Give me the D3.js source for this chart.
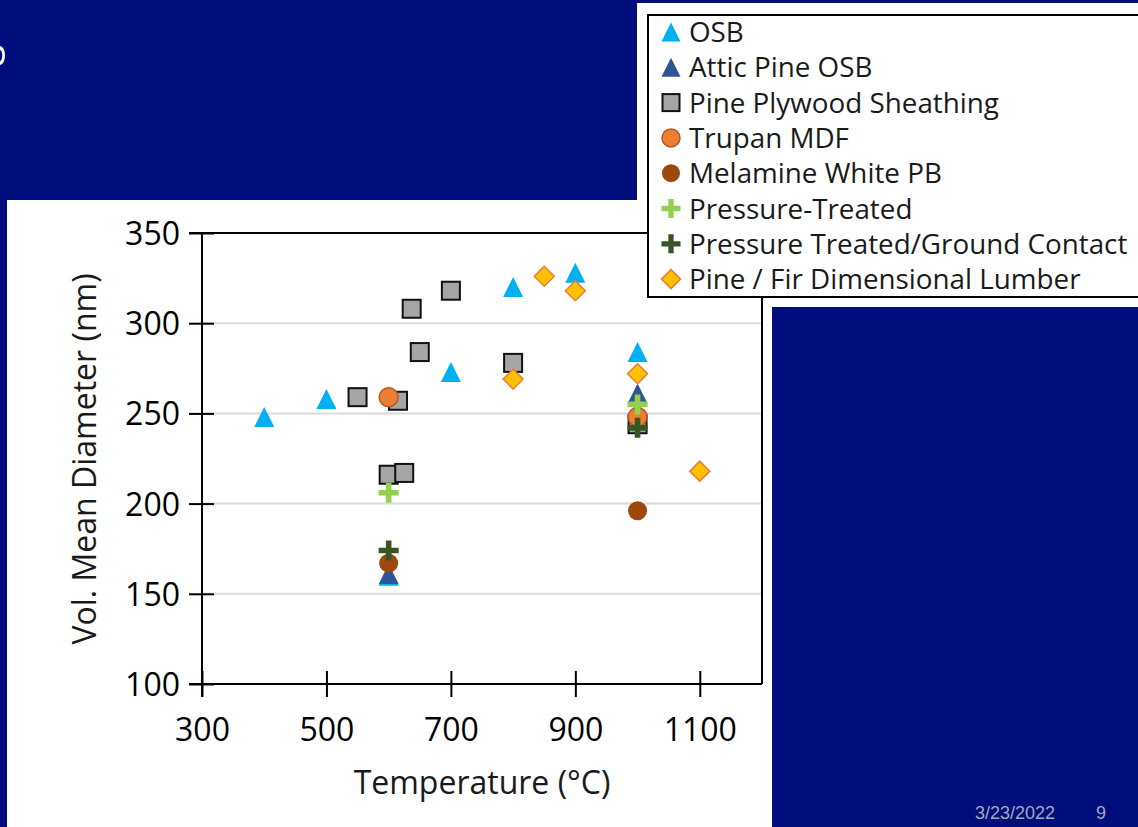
<!DOCTYPE html>
<html>
<head>
<meta charset="utf-8">
<script src="https://cdn.jsdelivr.net/npm/d3@7"></script>
<style>
  html, body { margin: 0; padding: 0; background: #000d7c; }
  svg { display: block; }
</style>
</head>
<body>
<svg id="chart" width="1138" height="827"></svg>
<script>
// Series: [temperature (°C), volume mean diameter (nm)]
const seriesNames = [
  "OSB",
  "Attic Pine OSB",
  "Pine Plywood Sheathing",
  "Trupan MDF",
  "Melamine White PB",
  "Pressure-Treated",
  "Pressure Treated/Ground Contact",
  "Pine / Fir Dimensional Lumber"
];
const osb = [[400, 248], [500, 258], [600, 160], [700, 273], [800, 320], [900, 328], [1000, 284]];
const atticPineOsb = [[600, 161], [1000, 261]];
const pinePlywood = [[550, 259], [600, 216], [615, 257], [625, 217], [637, 308], [650, 284], [700, 318], [800, 278], [1000, 244]];
const trupanMdf = [[600, 259], [1000, 248]];
const melamineWhitePb = [[600, 167], [1000, 196]];
const pressureTreated = [[600, 206], [1000, 255]];
const pressureTreatedGround = [[600, 174], [1000, 242]];
const pineFirLumber = [[800, 269], [850, 326], [900, 318], [1000, 272], [1100, 218]];

const xTicks = [300, 500, 700, 900, 1100];
const yTicks = [100, 150, 200, 250, 300, 350];

const seriesData = [osb, atticPineOsb, pinePlywood, trupanMdf, melamineWhitePb,
                    pressureTreated, pressureTreatedGround, pineFirLumber];

// Marker styles per series
const markerStyles = [
  { shape: "triangle", fill: "#00b0f0", stroke: "none", sw: 0 },
  { shape: "triangle", fill: "#2f5597", stroke: "none", sw: 0 },
  { shape: "square",   fill: "#a5a5a5", stroke: "#111111", sw: 2 },
  { shape: "circle",   fill: "#ed7d31", stroke: "#ae5a21", sw: 1.5 },
  { shape: "circle",   fill: "#9e480e", stroke: "none", sw: 0 },
  { shape: "plus",     fill: "#92d050", stroke: "none", sw: 0 },
  { shape: "plus",     fill: "#375623", stroke: "none", sw: 0 },
  { shape: "diamond",  fill: "#ffc000", stroke: "#ed7d31", sw: 1.5 }
];

const svg = d3.select("#chart");
const FONT = "'Open Sans', 'Noto Sans', sans-serif";

// Slide background pieces
svg.append("rect").attr("x", 0).attr("y", 0).attr("width", 1138).attr("height", 827).attr("fill", "#000d7c");
// edge of the slide title glyph peeking in at the left border
svg.append("path").attr("d", "M0,46 A5,9.5 0 0 1 0,65 L0,61 A2.2,5.5 0 0 0 0,50 Z").attr("fill", "#ffffff");
svg.append("rect").attr("x", 7).attr("y", 200).attr("width", 765).attr("height", 627).attr("fill", "#ffffff");
svg.append("rect").attr("x", 637).attr("y", 3).attr("width", 501).attr("height", 304).attr("fill", "#ffffff");

// Scales
const x = d3.scaleLinear().domain([300, 1200]).range([202, 762]);
const y = d3.scaleLinear().domain([100, 350]).range([684, 233]);

// Gridlines
svg.append("g").selectAll("line").data(yTicks.filter(t => t > 100 && t < 350)).join("line")
  .attr("x1", x(300)).attr("x2", x(1200))
  .attr("y1", d => y(d)).attr("y2", d => y(d))
  .attr("stroke", "#d9d9d9").attr("stroke-width", 2);

// Plot frame (top and right)
svg.append("path")
  .attr("d", `M${x(300) - 13},${y(350)}H${x(1200)}V${y(100)}`)
  .attr("fill", "none").attr("stroke", "#000").attr("stroke-width", 2);

// Axes with ticks crossing the axis line
const xAxis = svg.append("g").attr("transform", `translate(0,${y(100)})`)
  .call(d3.axisBottom(x).tickValues(xTicks).tickSize(0).tickPadding(0).tickFormat(""));
xAxis.select(".domain").attr("stroke", "#000").attr("stroke-width", 2)
  .attr("d", `M${x(300) - 13},0H${x(1200)}`);
xAxis.selectAll(".tick line").attr("y1", -13).attr("y2", 13).attr("stroke", "#000").attr("stroke-width", 2);
xAxis.selectAll(".tick").append("text")
  .attr("y", 57).attr("text-anchor", "middle")
  .attr("font-family", FONT).attr("font-size", 32).attr("fill", "#000")
  .text(d => d);

const yAxis = svg.append("g").attr("transform", `translate(${x(300)},0)`)
  .call(d3.axisLeft(y).tickValues(yTicks).tickSize(0).tickFormat(""));
yAxis.select(".domain").attr("stroke", "#000").attr("stroke-width", 2)
  .attr("d", `M0,${y(350)}V${y(100) + 13}`);
yAxis.selectAll(".tick line").attr("x1", -13).attr("x2", 12).attr("stroke", "#000").attr("stroke-width", 2);
yAxis.selectAll(".tick").append("text")
  .attr("x", -22).attr("dy", "0.36em").attr("text-anchor", "end")
  .attr("font-family", FONT).attr("font-size", 32).attr("fill", "#000")
  .text(d => d);

// Axis titles
svg.append("text").attr("x", 482).attr("y", 794).attr("text-anchor", "middle")
  .attr("font-family", FONT).attr("font-size", 32).attr("fill", "#1a1a1a")
  .text("Temperature (°C)");
svg.append("text").attr("transform", "translate(96,459) rotate(-90)").attr("text-anchor", "middle")
  .attr("font-family", FONT).attr("font-size", 32).attr("fill", "#1a1a1a")
  .text("Vol. Mean Diameter (nm)");

// Marker drawing
function drawMarker(sel, st, size) {
  const h = size / 2;
  if (st.shape === "triangle") {
    sel.append("path").attr("d", `M0,${-h}L${h},${h}L${-h},${h}Z`);
  } else if (st.shape === "square") {
    sel.append("rect").attr("x", -h + 1).attr("y", -h + 1).attr("width", size - 2).attr("height", size - 2);
  } else if (st.shape === "circle") {
    sel.append("circle").attr("r", h - 0.5);
  } else if (st.shape === "diamond") {
    sel.append("path").attr("d", `M0,${-h}L${h},0L0,${h}L${-h},0Z`);
  } else if (st.shape === "plus") {
    const t = size * 0.14;
    sel.append("path").attr("d",
      `M${-t},${-h}H${t}V${-t}H${h}V${t}H${t}V${h}H${-t}V${t}H${-h}V${-t}H${-t}Z`);
  }
  sel.selectAll("*").attr("fill", st.fill).attr("stroke", st.stroke).attr("stroke-width", st.sw);
}

const pointsLayer = svg.append("g");
seriesData.forEach((data, i) => {
  pointsLayer.append("g").selectAll("g").data(data).join("g")
    .attr("transform", d => `translate(${x(d[0])},${y(d[1])})`)
    .each(function () { drawMarker(d3.select(this), markerStyles[i], 20); });
});

// Legend
svg.append("rect").attr("x", 648).attr("y", 15).attr("width", 500).attr("height", 282)
  .attr("fill", "#ffffff").attr("stroke", "#000").attr("stroke-width", 2);
const legend = svg.append("g").selectAll("g").data(seriesNames).join("g")
  .attr("transform", (d, i) => `translate(671,${32 + i * 35.3})`);
legend.each(function (d, i) { drawMarker(d3.select(this), markerStyles[i], 19); });
legend.append("text").attr("x", 18).attr("dy", "0.36em")
  .attr("font-family", FONT).attr("font-size", 27.8).attr("fill", "#1a1a1a")
  .text(d => d);

// Footer
svg.append("text").attr("x", 975).attr("y", 819)
  .attr("font-family", "'Liberation Sans', Arial, sans-serif").attr("font-size", 18).attr("fill", "#a6a6b8")
  .text("3/23/2022");
svg.append("text").attr("x", 1096).attr("y", 819)
  .attr("font-family", "'Liberation Sans', Arial, sans-serif").attr("font-size", 18).attr("fill", "#a6a6b8")
  .text("9");
</script>
</body>
</html>
